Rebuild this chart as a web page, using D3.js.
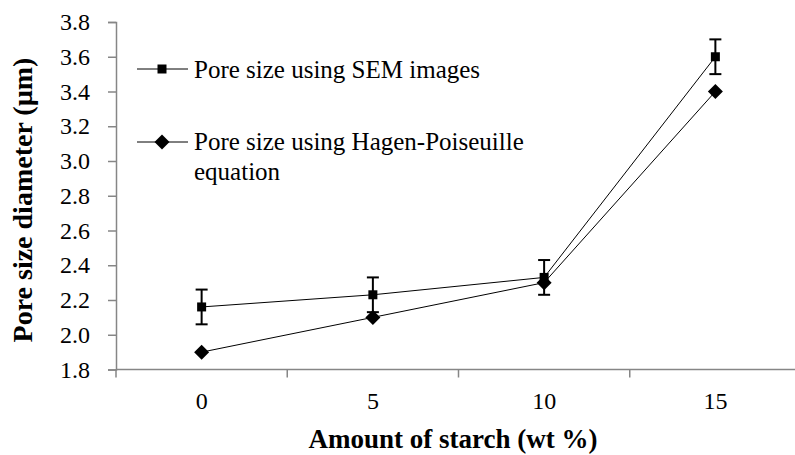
<!DOCTYPE html>
<html>
<head>
<meta charset="utf-8">
<script src="https://cdn.jsdelivr.net/npm/d3@7/dist/d3.min.js"></script>
<style>
  html, body { margin: 0; padding: 0; background: #fff; }
  svg { display: block; font-family: "Liberation Serif", "Times New Roman", serif; }
</style>
</head>
<body>
<svg id="chart" width="795" height="455"></svg>
<script>
// Starch content (wt %) on the x axis
const starch = ["0", "5", "10", "15"];
// Pore size measured from SEM images (µm) and its error
const semPore = [2.16, 2.23, 2.33, 3.6];
const semErr = [0.1, 0.1, 0.1, 0.1];
// Pore size from the Hagen-Poiseuille equation (µm)
const hpPore = [1.9, 2.1, 2.3, 3.4];
// Y axis tick labels
const yTicks = [1.8, 2.0, 2.2, 2.4, 2.6, 2.8, 3.0, 3.2, 3.4, 3.6, 3.8];

const seriesNames = ["Pore size using SEM images", "Pore size using Hagen-Poiseuille equation"];

const svg = d3.select("#chart");
const axisColor = "#868686";

const x = d3.scaleBand().domain(starch).range([116, 801]).padding(0);
const y = d3.scaleLinear().domain([1.8, 3.8]).range([369.5, 22]);
const cx = d => x(d) + x.bandwidth() / 2;

// Y axis
const yAxis = svg.append("g")
  .attr("transform", "translate(116,0)")
  .call(d3.axisLeft(y).tickValues(yTicks).tickFormat(d3.format(".1f")).tickSize(8).tickPadding(18));
yAxis.select(".domain").attr("stroke", axisColor).attr("stroke-width", 1.5);
yAxis.selectAll(".tick line").attr("stroke", axisColor).attr("stroke-width", 1.5);
yAxis.selectAll(".tick text").attr("font-family", "Liberation Serif").attr("font-size", 24).attr("fill", "#000");

// X axis: labels centred in each category, tick marks between categories
const xAxis = svg.append("g")
  .attr("transform", "translate(0,369.5)")
  .call(d3.axisBottom(x).tickSize(0).tickPadding(22));
xAxis.select(".domain").remove();
xAxis.selectAll(".tick text").attr("font-family", "Liberation Serif").attr("font-size", 24).attr("fill", "#000");
xAxis.append("line")
  .attr("x1", 116).attr("x2", 801).attr("y1", 0).attr("y2", 0)
  .attr("stroke", axisColor).attr("stroke-width", 1.5);
const edges = starch.map(d => x(d)).concat([x(starch[starch.length - 1]) + x.bandwidth()]);
xAxis.selectAll(".edge").data(edges).join("line")
  .attr("class", "edge")
  .attr("x1", d => d).attr("x2", d => d).attr("y1", 0).attr("y2", 8)
  .attr("stroke", axisColor).attr("stroke-width", 1.5);

// Axis titles
svg.append("text")
  .attr("x", 453).attr("y", 448)
  .attr("text-anchor", "middle")
  .attr("font-weight", "bold").attr("font-size", 27)
  .text("Amount of starch (wt %)");
svg.append("text")
  .attr("transform", "translate(32,200) rotate(-90)")
  .attr("text-anchor", "middle")
  .attr("font-weight", "bold").attr("font-size", 28)
  .text("Pore size diameter (µm)");

// Series lines
const line = d3.line().x((d, i) => cx(starch[i])).y(d => y(d));
const plot = svg.append("g");
plot.append("path").datum(semPore).attr("d", line)
  .attr("fill", "none").attr("stroke", "#000").attr("stroke-width", 1);
plot.append("path").datum(hpPore).attr("d", line)
  .attr("fill", "none").attr("stroke", "#000").attr("stroke-width", 1);

// Error bars on the SEM series
const eb = plot.selectAll(".err").data(semPore).join("g").attr("class", "err");
eb.append("line")
  .attr("x1", (d, i) => cx(starch[i])).attr("x2", (d, i) => cx(starch[i]))
  .attr("y1", (d, i) => y(d - semErr[i])).attr("y2", (d, i) => y(d + semErr[i]))
  .attr("stroke", "#000").attr("stroke-width", 2);
[-1, 1].forEach(s => {
  eb.append("line")
    .attr("x1", (d, i) => cx(starch[i]) - 6).attr("x2", (d, i) => cx(starch[i]) + 6)
    .attr("y1", (d, i) => y(d + s * semErr[i])).attr("y2", (d, i) => y(d + s * semErr[i]))
    .attr("stroke", "#000").attr("stroke-width", 2);
});

// Markers
const square = d3.symbol().type(d3.symbolSquare).size(81);
const diamond = (cxp, cyp, r) => `M${cxp},${cyp - r}L${cxp + r},${cyp}L${cxp},${cyp + r}L${cxp - r},${cyp}Z`;
plot.selectAll(".sq").data(semPore).join("path").attr("class", "sq")
  .attr("d", square)
  .attr("transform", (d, i) => `translate(${cx(starch[i])},${y(d)})`)
  .attr("fill", "#000");
plot.selectAll(".dm").data(hpPore).join("path").attr("class", "dm")
  .attr("d", (d, i) => diamond(cx(starch[i]), y(d), 7.5))
  .attr("fill", "#000");

// Legend
const legend = svg.append("g");
const rows = [69, 142];
rows.forEach((ry, k) => {
  legend.append("line").attr("x1", 137).attr("x2", 188).attr("y1", ry).attr("y2", ry)
    .attr("stroke", "#000").attr("stroke-width", 1);
  if (k === 0) {
    legend.append("path").attr("d", square).attr("transform", `translate(162,${ry})`).attr("fill", "#000");
  } else {
    legend.append("path").attr("d", diamond(162, ry, 7.5)).attr("fill", "#000");
  }
});
legend.append("text").attr("x", 194).attr("y", 78).attr("font-size", 25).text(seriesNames[0]);
const t2 = legend.append("text").attr("x", 194).attr("y", 150).attr("font-size", 25);
t2.append("tspan").attr("x", 194).text("Pore size using Hagen-Poiseuille");
t2.append("tspan").attr("x", 194).attr("dy", 30).text("equation");
</script>
</body>
</html>
